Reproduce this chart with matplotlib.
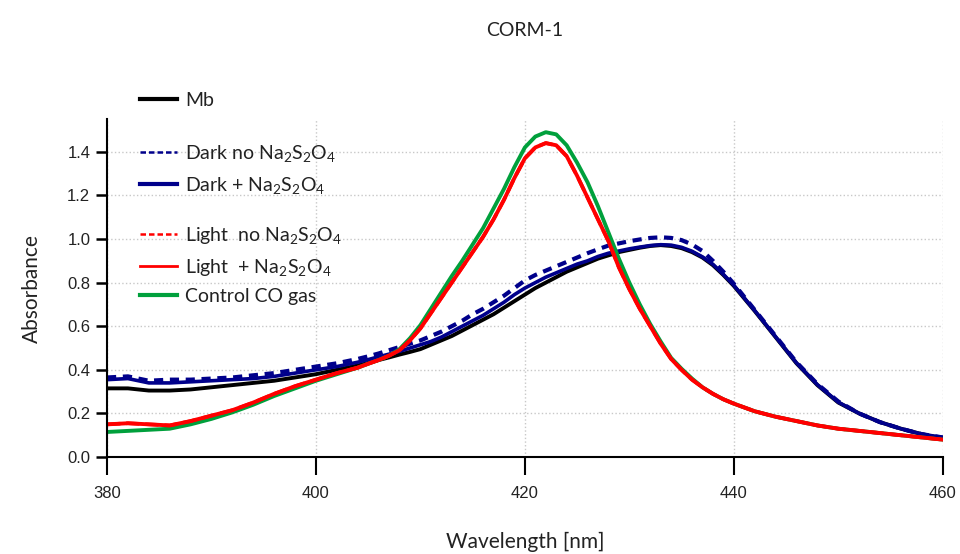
import numpy as np
import matplotlib
matplotlib.use("Agg")
import matplotlib.pyplot as plt
from matplotlib.lines import Line2D

plt.rcParams['font.family'] = ['Lato', 'DejaVu Sans']
plt.rcParams['mathtext.default'] = 'regular'

# wavelength grid (nm): 2 nm steps on the flanks, 1 nm steps around the Soret bands
wavelength = list(range(380, 405, 2)) + list(range(405, 441)) + list(range(442, 461, 2))

mb = [0.315, 0.315, 0.305, 0.305, 0.31, 0.32, 0.33, 0.34, 0.35, 0.365, 0.38, 0.40, 0.42,
      0.432, 0.445, 0.457, 0.47, 0.482, 0.495, 0.515, 0.535, 0.555, 0.58, 0.605,
      0.63, 0.655, 0.685, 0.715, 0.745, 0.775, 0.80, 0.825, 0.85, 0.87,
      0.89, 0.91, 0.925, 0.94, 0.95, 0.96, 0.968, 0.972, 0.968, 0.958,
      0.94, 0.915, 0.88, 0.835, 0.785,
      0.67, 0.55, 0.43, 0.33, 0.25, 0.20, 0.16, 0.13, 0.105, 0.085]

dark_no = [0.365, 0.37, 0.35, 0.355, 0.355, 0.36, 0.365, 0.375, 0.385, 0.40, 0.415, 0.43, 0.45,
           0.462, 0.475, 0.49, 0.505, 0.52, 0.535, 0.555, 0.575, 0.60, 0.625, 0.655,
           0.68, 0.71, 0.74, 0.775, 0.81, 0.835, 0.855, 0.875, 0.895, 0.915,
           0.935, 0.953, 0.97, 0.98, 0.99, 0.998, 1.005, 1.008, 1.005, 0.995,
           0.975, 0.945, 0.90, 0.85, 0.795,
           0.675, 0.555, 0.435, 0.335, 0.255, 0.20, 0.16, 0.13, 0.105, 0.09]

dark_plus = [0.355, 0.36, 0.34, 0.34, 0.345, 0.35, 0.355, 0.36, 0.37, 0.385, 0.40, 0.415, 0.435,
             0.447, 0.46, 0.472, 0.485, 0.50, 0.515, 0.53, 0.55, 0.575, 0.60, 0.625,
             0.65, 0.68, 0.71, 0.745, 0.775, 0.80, 0.825, 0.845, 0.865, 0.885,
             0.90, 0.92, 0.935, 0.945, 0.955, 0.963, 0.97, 0.974, 0.972, 0.962,
             0.944, 0.918, 0.884, 0.838, 0.788,
             0.672, 0.552, 0.432, 0.332, 0.252, 0.20, 0.16, 0.13, 0.105, 0.09]

light_no = [0.15, 0.155, 0.15, 0.145, 0.165, 0.19, 0.215, 0.25, 0.29, 0.325, 0.355, 0.385, 0.41,
            0.428, 0.445, 0.465, 0.49, 0.535, 0.59, 0.66, 0.73, 0.80, 0.87, 0.94,
            1.01, 1.09, 1.18, 1.28, 1.37, 1.42, 1.44, 1.43, 1.38, 1.29,
            1.19, 1.09, 0.99, 0.87, 0.77, 0.68, 0.60, 0.52, 0.45, 0.40,
            0.355, 0.32, 0.29, 0.265, 0.245,
            0.21, 0.185, 0.165, 0.145, 0.13, 0.12, 0.11, 0.10, 0.09, 0.08]

light_plus = [0.15, 0.155, 0.15, 0.145, 0.165, 0.19, 0.215, 0.25, 0.29, 0.325, 0.355, 0.385, 0.41,
              0.428, 0.445, 0.465, 0.49, 0.535, 0.59, 0.66, 0.73, 0.80, 0.87, 0.94,
              1.01, 1.09, 1.18, 1.28, 1.37, 1.42, 1.44, 1.43, 1.38, 1.29,
              1.19, 1.09, 0.99, 0.87, 0.77, 0.68, 0.60, 0.52, 0.45, 0.40,
              0.355, 0.32, 0.29, 0.265, 0.245,
              0.21, 0.185, 0.165, 0.145, 0.13, 0.12, 0.11, 0.10, 0.09, 0.08]

control_co = [0.115, 0.12, 0.125, 0.13, 0.15, 0.175, 0.205, 0.24, 0.28, 0.315, 0.35, 0.38, 0.41,
              0.428, 0.445, 0.465, 0.495, 0.545, 0.605, 0.68, 0.755, 0.83, 0.90, 0.975,
              1.05, 1.14, 1.23, 1.33, 1.42, 1.47, 1.49, 1.48, 1.43, 1.35,
              1.26, 1.15, 1.03, 0.91, 0.80, 0.70, 0.61, 0.53, 0.455, 0.405,
              0.36, 0.32, 0.29, 0.265, 0.245,
              0.21, 0.185, 0.165, 0.145, 0.13, 0.12, 0.11, 0.10, 0.09, 0.08]

labels = ['Mb',
          r'Dark no Na$_2$S$_2$O$_4$',
          r'Dark + Na$_2$S$_2$O$_4$',
          r'Light  no Na$_2$S$_2$O$_4$',
          r'Light  + Na$_2$S$_2$O$_4$',
          'Control CO gas']

blue = '#00008b'
red = '#ff0000'
green = '#00a03c'

fig = plt.figure(figsize=(9.6, 5.54), dpi=100)
ax = fig.add_axes([0.1115, 0.175, 0.8705, 0.61])

# curves
ax.plot(wavelength, mb, color='black', lw=2.8)
ax.plot(wavelength, dark_no, color=blue, lw=3, ls=(0, (2.2, 1.6)))
ax.plot(wavelength, dark_plus, color=blue, lw=2.6)
ax.plot(wavelength, control_co, color=green, lw=2.8)
ax.plot(wavelength, light_no, color=red, lw=2.6, ls='--')
ax.plot(wavelength, light_plus, color=red, lw=2.8)

ax.set_xlim(380, 460)
ax.set_ylim(0, 1.55)
ax.set_xticks([380, 400, 420, 440, 460])
yt = np.arange(0, 1.41, 0.2)
ax.set_yticks(yt)
ax.set_yticklabels([f'{v:.1f}' for v in yt])

ax.grid(True, color='#c8c8c8', ls=':', lw=1)
for s in ['top', 'right']:
    ax.spines[s].set_visible(False)
for s in ['left', 'bottom']:
    ax.spines[s].set_linewidth(1.5)

ax.tick_params(axis='y', length=8, width=1.8, labelsize=12, pad=4)
ax.tick_params(axis='x', length=13, width=1.5, labelsize=12, pad=8)
for lab in ax.get_xticklabels() + ax.get_yticklabels():
    lab.set_family(['Liberation Sans', 'DejaVu Sans'])
    lab.set_color('#222222')

ax.set_xlabel('Wavelength [nm]', fontsize=15, labelpad=22, color='#222222')
ax.set_ylabel('Absorbance', fontsize=15, labelpad=18, color='#222222')
fig.text(0.547, 0.945, 'CORM-1', ha='center', va='center', fontsize=14, color='#222222')

handles = [Line2D([], [], color='black', lw=3),
           Line2D([], [], color=blue, lw=1.8, ls=(0, (2.2, 1.2))),
           Line2D([], [], color=blue, lw=3),
           Line2D([], [], color=red, lw=1.8, ls=(0, (2.2, 1.2))),
           Line2D([], [], color=red, lw=2),
           Line2D([], [], color=green, lw=3)]

# legend is split in groups, as in the original the rows are not evenly spaced
groups = [(slice(0, 1), 1.056), (slice(1, 3), 0.851), (slice(3, 6), 0.568)]
for i, (sl, yc) in enumerate(groups):
    leg = ax.legend(handles[sl], labels[sl], loc='center left', bbox_to_anchor=(0.04, yc),
                    frameon=False, fontsize=14, handlelength=1.9, handletextpad=0.4,
                    labelspacing=0.55, borderaxespad=0, borderpad=0)
    for t in leg.get_texts():
        t.set_color('#222222')
    if i < len(groups) - 1:
        ax.add_artist(leg)

fig.savefig('out.png', dpi=100)
